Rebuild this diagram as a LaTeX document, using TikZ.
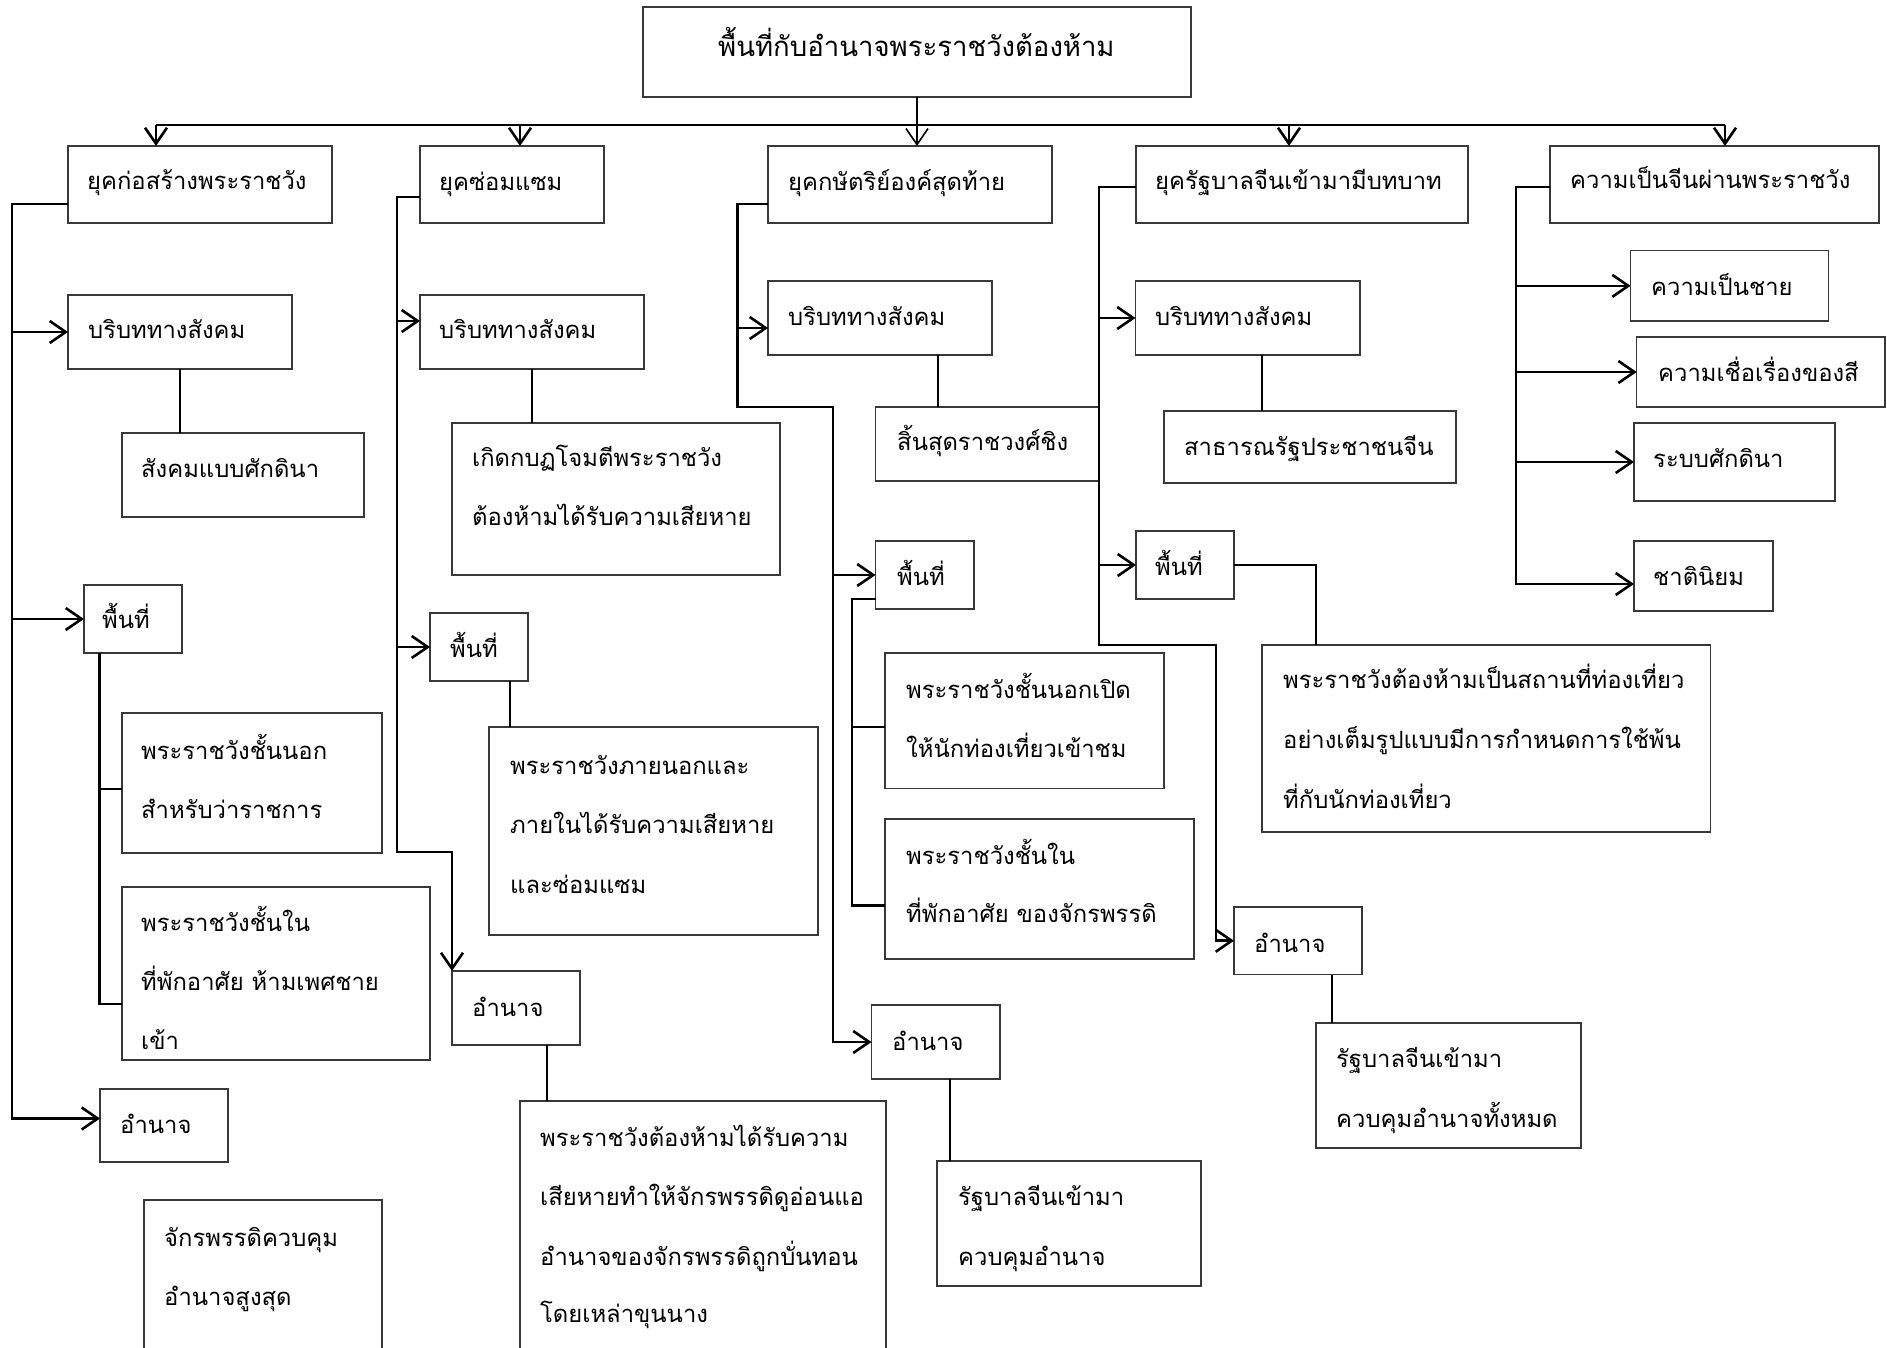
\documentclass[tikz,border=0pt]{standalone}
\usepackage{fontspec}
\newfontfamily\thai[Script=Thai]{Loma}
\usetikzlibrary{arrows.meta}
\begin{document}
\begin{tikzpicture}[x=1pt,y=-1pt,
  box/.style={draw=black!78, line width=1.5pt, anchor=north west, inner sep=0pt, outer sep=0pt},
  txt/.style={anchor=base west, inner sep=0pt, font=\thai\fontsize{23.8}{28}\selectfont},
  ttl/.style={anchor=base west, inner sep=0pt, font=\thai\fontsize{27.5}{32}\selectfont},
  conn/.style={line width=2.6pt},
  link/.style={line width=2pt},
  arr/.style={conn, -{Straight Barb[length=16pt,width=22pt]}}]
\useasboundingbox (0,0) rectangle (1887,1348);
% ---------- boxes ----------
\node[box, minimum width=548, minimum height=90] (title) at (643,7) {};
\node[box, minimum width=264, minimum height=77] (B1) at (68,146) {};
\node[box, minimum width=184, minimum height=77] (B2) at (420,146) {};
\node[box, minimum width=284, minimum height=77] (B3) at (768,146) {};
\node[box, minimum width=332, minimum height=77] (B4) at (1136,146) {};
\node[box, minimum width=329, minimum height=77] (B5) at (1550,146) {};
% column 1
\node[box, minimum width=224, minimum height=74] (R1) at (68,295) {};
\node[box, minimum width=242, minimum height=84] (S1) at (122,433) {};
\node[box, minimum width=98, minimum height=68] (P1) at (84,585) {};
\node[box, minimum width=260, minimum height=140] (N1) at (122,713) {};
\node[box, minimum width=308, minimum height=173] (I1) at (122,887) {};
\node[box, minimum width=128, minimum height=73] (A1) at (100,1089) {};
\node[box, minimum width=238, minimum height=160] (E1) at (144,1200) {};
% column 2
\node[box, minimum width=224, minimum height=74] (R2) at (420,295) {};
\node[box, minimum width=328, minimum height=152] (G2) at (452,423) {};
\node[box, minimum width=98, minimum height=68] (P2) at (430,613) {};
\node[box, minimum width=329, minimum height=208] (E2) at (489,727) {};
\node[box, minimum width=128, minimum height=74] (A2) at (452,971) {};
\node[box, minimum width=366, minimum height=260] (D2) at (520,1101) {};
% column 3
\node[box, minimum width=224, minimum height=74] (R3) at (768,281) {};
\node[box, minimum width=223.5, minimum height=74] (K3) at (875.5,407) {};
\node[box, minimum width=98.5, minimum height=68] (P3) at (875.5,541) {};
\node[box, minimum width=279, minimum height=135.5] (N3) at (885,653) {};
\node[box, minimum width=309, minimum height=140] (I3) at (885,819) {};
\node[box, minimum width=128.5, minimum height=74] (A3) at (871.5,1005) {};
\node[box, minimum width=264, minimum height=125] (G3) at (937,1161) {};
% column 4
\node[box, minimum width=224.5, minimum height=74] (R4) at (1135.5,281) {};
\node[box, minimum width=292, minimum height=72] (S4) at (1164,411) {};
\node[box, minimum width=98, minimum height=68] (P4) at (1136,531) {};
\node[box, minimum width=448.6, minimum height=187] (T4) at (1262,645) {};
\node[box, minimum width=128, minimum height=67.5] (A4) at (1234,907) {};
\node[box, minimum width=265, minimum height=125] (G4) at (1316,1023) {};
% column 5
\node[box, minimum width=198, minimum height=70.3] (C5a) at (1630.6,250.7) {};
\node[box, minimum width=248.3, minimum height=70] (C5b) at (1636.7,337) {};
\node[box, minimum width=201, minimum height=78] (C5c) at (1634,423) {};
\node[box, minimum width=139, minimum height=70] (C5d) at (1634,541) {};
% ---------- texts ----------
\node[ttl] (titlet) at (718,57) {พื้นที่กับอำนาจพระราชวังต้องห้าม};
\node[txt] (B1t) at (87,190) {ยุคก่อสร้างพระราชวัง};
\node[txt] (B2t) at (439,191) {ยุคซ่อมแซม};
\node[txt] (B3t) at (788,191) {ยุคกษัตริย์องค์สุดท้าย};
\node[txt] (B4t) at (1155,190) {ยุครัฐบาลจีนเข้ามามีบทบาท};
\node[txt] (B5t) at (1570,189) {ความเป็นจีนผ่านพระราชวัง};
\node[txt] (R1t) at (88,338) {บริบททางสังคม};
\node[txt] (S1t) at (141,477) {สังคมแบบศักดินา};
\node[txt] (P1t) at (102,628) {พื้นที่};
\node[txt] (N1t1) at (141,759) {พระราชวังชั้นนอก};
\node[txt] (N1t2) at (141,818) {สำหรับว่าราชการ};
\node[txt] (I1t1) at (141,931) {พระราชวังชั้นใน};
\node[txt] (I1t2) at (141,990) {ที่พักอาศัย ห้ามเพศชาย};
\node[txt] (I1t3) at (141,1049) {เข้า};
\node[txt] (A1t) at (120,1133) {อำนาจ};
\node[txt] (E1t1) at (164,1246) {จักรพรรดิควบคุม};
\node[txt] (E1t2) at (164,1305) {อำนาจสูงสุด};
\node[txt] (R2t) at (439,338) {บริบททางสังคม};
\node[txt] (G2t1) at (472,466) {เกิดกบฏโจมตีพระราชวัง};
\node[txt] (G2t2) at (472,525) {ต้องห้ามได้รับความเสียหาย};
\node[txt] (P2t) at (450,657) {พื้นที่};
\node[txt] (E2t1) at (510,774) {พระราชวังภายนอกและ};
\node[txt] (E2t2) at (510,833) {ภายในได้รับความเสียหาย};
\node[txt] (E2t3) at (510,893) {และซ่อมแซม};
\node[txt] (A2t) at (472,1016) {อำนาจ};
\node[txt] (D2t1) at (540,1146) {พระราชวังต้องห้ามได้รับความ};
\node[txt] (D2t2) at (540,1205) {เสียหายทำให้จักรพรรดิดูอ่อนแอ};
\node[txt] (D2t3) at (540,1265) {อำนาจของจักรพรรดิถูกบั่นทอน};
\node[txt] (D2t4) at (540,1322) {โดยเหล่าขุนนาง};
\node[txt] (R3t) at (788,325) {บริบททางสังคม};
\node[txt] (K3t) at (897,450) {สิ้นสุดราชวงศ์ชิง};
\node[txt] (P3t) at (897,585) {พื้นที่};
\node[txt] (N3t1) at (906,698) {พระราชวังชั้นนอกเปิด};
\node[txt] (N3t2) at (906,757) {ให้นักท่องเที่ยวเข้าชม};
\node[txt] (I3t1) at (906,864) {พระราชวังชั้นใน};
\node[txt] (I3t2) at (906,922) {ที่พักอาศัย ของจักรพรรดิ};
\node[txt] (A3t) at (892,1050) {อำนาจ};
\node[txt] (G3t1) at (958,1205) {รัฐบาลจีนเข้ามา};
\node[txt] (G3t2) at (958,1265) {ควบคุมอำนาจ};
\node[txt] (R4t) at (1155,325) {บริบททางสังคม};
\node[txt] (S4t) at (1184,455) {สาธารณรัฐประชาชนจีน};
\node[txt] (P4t) at (1155,575) {พื้นที่};
\node[txt] (T4t1) at (1283,688) {พระราชวังต้องห้ามเป็นสถานที่ท่องเที่ยว};
\node[txt] (T4t2) at (1283,748) {อย่างเต็มรูปแบบมีการกำหนดการใช้พ้น};
\node[txt] (T4t3) at (1283,808) {ที่กับนักท่องเที่ยว};
\node[txt] (A4t) at (1254,952) {อำนาจ};
\node[txt] (G4t1) at (1336,1067) {รัฐบาลจีนเข้ามา};
\node[txt] (G4t2) at (1336,1127) {ควบคุมอำนาจทั้งหมด};
\node[txt] (C5at) at (1651,295) {ความเป็นชาย};
\node[txt] (C5bt) at (1658,381) {ความเชื่อเรื่องของสี};
\node[txt] (C5ct) at (1653,467) {ระบบศักดินา};
\node[txt] (C5dt) at (1653,585) {ชาตินิยม};
% ---------- top bar ----------
\coordinate (barL) at (156,125);
\coordinate (barR) at (1725,125);
\coordinate (m2) at (520,125);
\coordinate (m4) at (1289,125);
\draw[conn] (barL) -- (barR);
\draw[arr] (barL) -- (B1.north -| barL);
\draw[arr] (m2) -- (B2.north -| m2);
\draw[arr, line width=1.6pt] (title.south) -- (title.south |- B3.north);
\draw[arr] (m4) -- (B4.north -| m4);
\draw[arr] (barR) -- (B5.north -| barR);
% ---------- column 1 ----------
\coordinate (k1) at (12,204);
\draw[arr] (B1.west |- k1) -- (k1) |- ([yshift=7pt]A1.west);
\draw[arr] (k1 |- R1.west) -- (R1.west);
\draw[arr] (k1 |- P1.west) -- (P1.west);
\draw[link] (R1.south) -- (R1.south |- S1.north);
\coordinate (p1s) at (P1.south -| 99.6,0);
\coordinate (n1w) at (N1.west |- 0,789);
\coordinate (i1w) at (I1.west |- 0,1004);
\draw[conn] (p1s) -- (p1s |- i1w) -- (i1w);
\draw[conn] (p1s |- n1w) -- (n1w);
% ---------- column 2 ----------
\coordinate (k2) at (397,197);
\coordinate (k2b) at (397,852);
\draw[arr] (B2.west |- k2) -- (k2) -- (k2b) -| (A2.north west);
\coordinate (r2w) at ([yshift=11pt]R2.west);
\draw[arr] (k2 |- r2w) -- (r2w);
\draw[arr] (k2 |- P2.west) -- (P2.west);
\draw[link] (R2.south) -- (R2.south |- G2.north);
\draw[link] (P2.south -| 509.5,0) -- (E2.north -| 509.5,0);
\draw[link] (A2.south -| 547,0) -- (D2.north -| 547,0);
% ---------- column 3 ----------
\coordinate (k3) at (737.5,204);
\coordinate (k3b) at (737.5,407);
\coordinate (k3c) at (833,407);
\draw[arr] (B3.west |- k3) -- (k3) -- (k3b) -- (k3c) |- (A3.west);
\coordinate (r3w) at ([yshift=-10pt]R3.west);
\draw[arr] (k3 |- r3w) -- (r3w);
\draw[arr] (k3c |- P3.west) -- (P3.west);
\draw[link] (R3.south -| 938,0) -- (K3.north -| 938,0);
\coordinate (p3w) at ([yshift=-24pt]P3.west);
\coordinate (n3w) at (N3.west |- 0,727);
\coordinate (i3w) at (I3.west |- 0,905.5);
\draw[conn] (p3w) -| (i3w -| 852,0) -- (i3w);
\draw[conn] (n3w -| 852,0) -- (n3w);
\draw[link] (A3.south -| 950,0) -- (G3.north -| 950,0);
% ---------- column 4 ----------
\coordinate (k4) at (1099,187);
\coordinate (k4b) at (1099,645);
\coordinate (k4c) at (1216,645);
\draw[arr] (B4.west |- k4) -- (k4) -- (k4b) -- (k4c) |- (A4.west);
\draw[arr] (k4 |- R4.west) -- (R4.west);
\draw[arr] (k4 |- P4.west) -- (P4.west);
\draw[link] (R4.south -| 1262,0) -- (S4.north -| 1262,0);
\draw[link] (P4.east) -| (T4.north -| 1316,0);
\draw[link] (A4.south -| 1332,0) -- (G4.north -| 1332,0);
% ---------- column 5 ----------
\coordinate (k5) at (1516,187);
\draw[arr] (B5.west |- k5) -- (k5) |- ([yshift=-8pt]C5d.west);
\draw[arr] (k5 |- C5a.west) -- (C5a.west);
\draw[arr] (k5 |- C5b.west) -- (C5b.west);
\draw[arr] (k5 |- C5c.west) -- (C5c.west);
\end{tikzpicture}
\end{document}
